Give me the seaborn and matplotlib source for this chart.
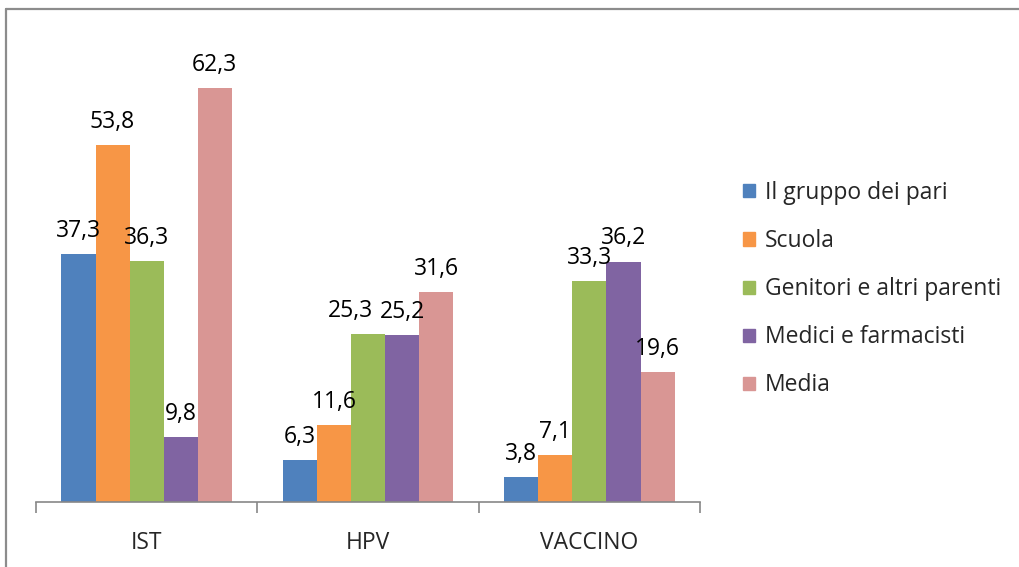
import matplotlib
matplotlib.use("Agg")
import matplotlib.pyplot as plt
from matplotlib.patches import Rectangle
from matplotlib.lines import Line2D
import seaborn as sns
import pandas as pd

categories = ["IST", "HPV", "VACCINO"]
sources = ["Il gruppo dei pari", "Scuola", "Genitori e altri parenti",
           "Medici e farmacisti", "Media"]
gruppo_pari = [37.3, 6.3, 3.8]
scuola = [53.8, 11.6, 7.1]
genitori = [36.3, 25.3, 33.3]
medici = [9.8, 25.2, 36.2]
media = [62.3, 31.6, 19.6]
colors = ["#4F81BD", "#F79646", "#9BBB59", "#8064A2", "#D99694"]

series = [gruppo_pari, scuola, genitori, medici, media]
df = pd.DataFrame([
    {"categoria": c, "fonte": s, "valore": vals[i]}
    for s, vals in zip(sources, series)
    for i, c in enumerate(categories)
])

sns.set_theme(style="white")
plt.rcParams["font.family"] = ["Open Sans", "DejaVu Sans"]
FS = 16.5
PAD = 8

fig = plt.figure(figsize=(10.19, 5.67), dpi=100)
ax = fig.add_axes([0.0353, 0.1146, 0.6517, 0.8201])

sns.barplot(data=df, x="categoria", y="valore", hue="fonte",
            order=categories, hue_order=sources, palette=colors,
            width=0.77, saturation=1, dodge=True, ax=ax, legend=False,
            linewidth=0, errorbar=None)

ax.set_ylim(0, 70)
ax.set_xlim(-0.5, 2.5)
value_labels = []
for c in ax.containers:
    labels = [f"{b.get_height():.1f}".replace(".", ",") for b in c]
    value_labels.append(ax.bar_label(c, labels=labels, padding=PAD,
                                     fontsize=FS, color="black"))

# nudge the HPV "Genitori" label left so it clears its neighbour
value_labels[2][1].xyann = (-12.5, PAD)

for side in ["top", "right", "left"]:
    ax.spines[side].set_visible(False)
ax.spines["bottom"].set_color("#878787")
ax.spines["bottom"].set_linewidth(1.2)
ax.set_yticks([])
ax.set_ylabel("")
ax.set_xlabel("")
ax.set_xticks(range(len(categories)))
ax.set_xticklabels(categories, fontsize=FS)
ax.tick_params(axis="x", which="major", length=0, pad=21)
ax.set_xticks([-0.5, 0.5, 1.5, 2.5], minor=True)
ax.tick_params(axis="x", which="minor", length=8, width=1.2,
               color="#878787", direction="out", bottom=True)

handles = [Rectangle((0, 0), 1, 1, color=col) for col in colors]
fig.legend(handles, sources, loc="center left",
           bbox_to_anchor=(0.709, 0.490), frameon=False, fontsize=FS,
           handlelength=0.5, handleheight=0.5, handletextpad=0.45,
           labelspacing=1.05)

# chart frame: only the top and left edges fall inside the image
fig.add_artist(Line2D([0.006, 1.0], [0.985, 0.985], transform=fig.transFigure,
                      color="#8c8c8c", linewidth=1.6))
fig.add_artist(Line2D([0.006, 0.006], [0.0, 0.985], transform=fig.transFigure,
                      color="#8c8c8c", linewidth=1.6))

fig.savefig("out.png", dpi=100, facecolor="white")
